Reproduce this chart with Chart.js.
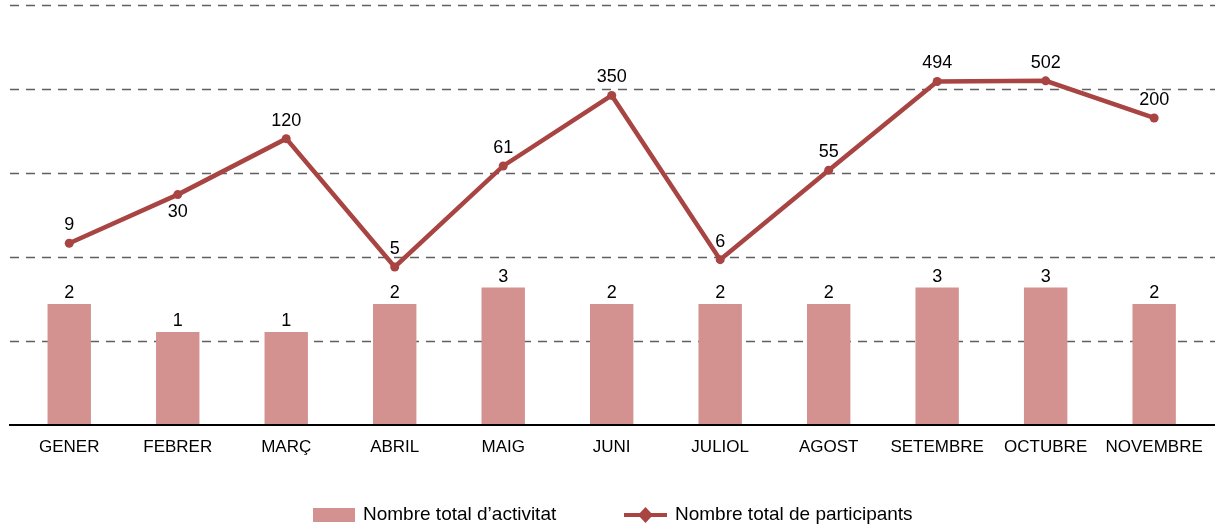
<!DOCTYPE html>
<html>
<head>
<meta charset="utf-8">
<script src="https://cdn.jsdelivr.net/npm/chart.js@4/dist/chart.umd.min.js"></script>
<style>
  html, body { margin: 0; padding: 0; background: #fff; }
  #wrap { width: 1215px; height: 525px; }
</style>
</head>
<body>
<div id="wrap"><canvas id="chart"></canvas></div>
<script>
const months = ["GENER", "FEBRER", "MARÇ", "ABRIL", "MAIG", "JUNI", "JULIOL", "AGOST", "SETEMBRE", "OCTUBRE", "NOVEMBRE"];
const activitats = [2, 1, 1, 2, 3, 2, 2, 2, 3, 3, 2];
const participants = [9, 30, 120, 5, 61, 350, 6, 55, 494, 502, 200];

const BAR_COLOR = "#d39290";
const LINE_COLOR = "#a84442";
const FONT = "'Liberation Sans', Arial, Helvetica, sans-serif";

// dashed grid across the full width + solid baseline
const gridPlugin = {
  id: "fullGrid",
  beforeDatasetsDraw(chart) {
    const ctx = chart.ctx;
    const g = chart.scales.g;
    ctx.save();
    ctx.strokeStyle = "#5f5f5f";
    ctx.lineWidth = 1.5;
    ctx.setLineDash([9, 7]);
    for (let v = g.min + 1; v <= g.max; v += 1) {
      const y = Math.round(g.getPixelForValue(v)) + 0.5;
      ctx.beginPath();
      ctx.moveTo(10, y);
      ctx.lineTo(chart.width, y);
      ctx.stroke();
    }
    ctx.restore();
  },
  afterDatasetsDraw(chart) {
    const ctx = chart.ctx;
    const y = chart.chartArea.bottom;
    ctx.save();
    ctx.strokeStyle = "#000";
    ctx.lineWidth = 2;
    ctx.beginPath();
    ctx.moveTo(9, y);
    ctx.lineTo(chart.width, y);
    ctx.stroke();
    ctx.restore();
  }
};

// value labels over bars and line points
const labelPlugin = {
  id: "valueLabels",
  afterDatasetsDraw(chart, args, opts) {
    const ctx = chart.ctx;
    ctx.save();
    ctx.font = "18px " + FONT;
    ctx.fillStyle = "#000";
    ctx.textAlign = "center";
    ctx.textBaseline = "alphabetic";
    chart.data.datasets.forEach((ds, di) => {
      const meta = chart.getDatasetMeta(di);
      meta.data.forEach((el, i) => {
        const text = String(ds.data[i]);
        if (ds.type === "line") {
          const below = opts.belowIdx.includes(i);
          ctx.fillText(text, el.x, below ? el.y + 22 : el.y - 13);
        } else {
          ctx.fillText(text, el.x, el.y - 6);
        }
      });
    });
    ctx.restore();
  }
};

// legend at the bottom
const legendPlugin = {
  id: "bottomLegend",
  afterDraw(chart) {
    const ctx = chart.ctx;
    const [lineDs, barDs] = chart.data.datasets;
    const y = 515;
    ctx.save();
    ctx.fillStyle = barDs.backgroundColor;
    ctx.fillRect(313, 508, 42, 14);

    ctx.strokeStyle = lineDs.borderColor;
    ctx.lineWidth = 4;
    ctx.beginPath();
    ctx.moveTo(624, y);
    ctx.lineTo(667, y);
    ctx.stroke();
    ctx.fillStyle = lineDs.borderColor;
    ctx.beginPath();
    ctx.moveTo(645.5, y - 8);
    ctx.lineTo(653, y);
    ctx.lineTo(645.5, y + 8);
    ctx.lineTo(638, y);
    ctx.closePath();
    ctx.fill();

    ctx.font = "19px " + FONT;
    ctx.fillStyle = "#000";
    ctx.textBaseline = "middle";
    ctx.textAlign = "left";
    ctx.fillText(barDs.label, 363, y);
    ctx.fillText(lineDs.label, 675, y);
    ctx.restore();
  }
};

new Chart(document.getElementById("chart"), {
  data: {
    labels: months,
    datasets: [
      {
        type: "line",
        label: "Nombre total de participants",
        data: participants,
        yAxisID: "y",
        borderColor: LINE_COLOR,
        backgroundColor: LINE_COLOR,
        borderWidth: 4.5,
        pointStyle: "circle",
        pointRadius: 4.5,
        pointBackgroundColor: LINE_COLOR,
        pointBorderWidth: 0,
        tension: 0,
        order: 0
      },
      {
        type: "bar",
        label: "Nombre total d’activitat",
        data: activitats,
        yAxisID: "y",
        backgroundColor: BAR_COLOR,
        categoryPercentage: 1,
        barPercentage: 0.4,
        order: 1
      }
    ]
  },
  options: {
    responsive: true,
    maintainAspectRatio: false,
    animation: false,
    layout: { padding: { left: 15, right: 3.6, top: 5, bottom: 55.6 } },
    plugins: {
      legend: { display: false },
      tooltip: { enabled: false },
      valueLabels: { belowIdx: [1] }
    },
    scales: {
      x: {
        type: "category",
        offset: true,
        grid: { display: false, drawTicks: false },
        border: { display: false },
        ticks: {
          color: "#000",
          font: { family: FONT, size: 17 },
          padding: 12,
          maxRotation: 0,
          autoSkip: false
        }
      },
      y: {
        type: "logarithmic",
        position: "left",
        min: 0.1,
        max: 3281,
        display: false
      },
      g: {
        type: "linear",
        axis: "y",
        position: "right",
        min: 0,
        max: 5,
        display: false
      }
    }
  },
  plugins: [gridPlugin, labelPlugin, legendPlugin]
});
</script>
</body>
</html>
